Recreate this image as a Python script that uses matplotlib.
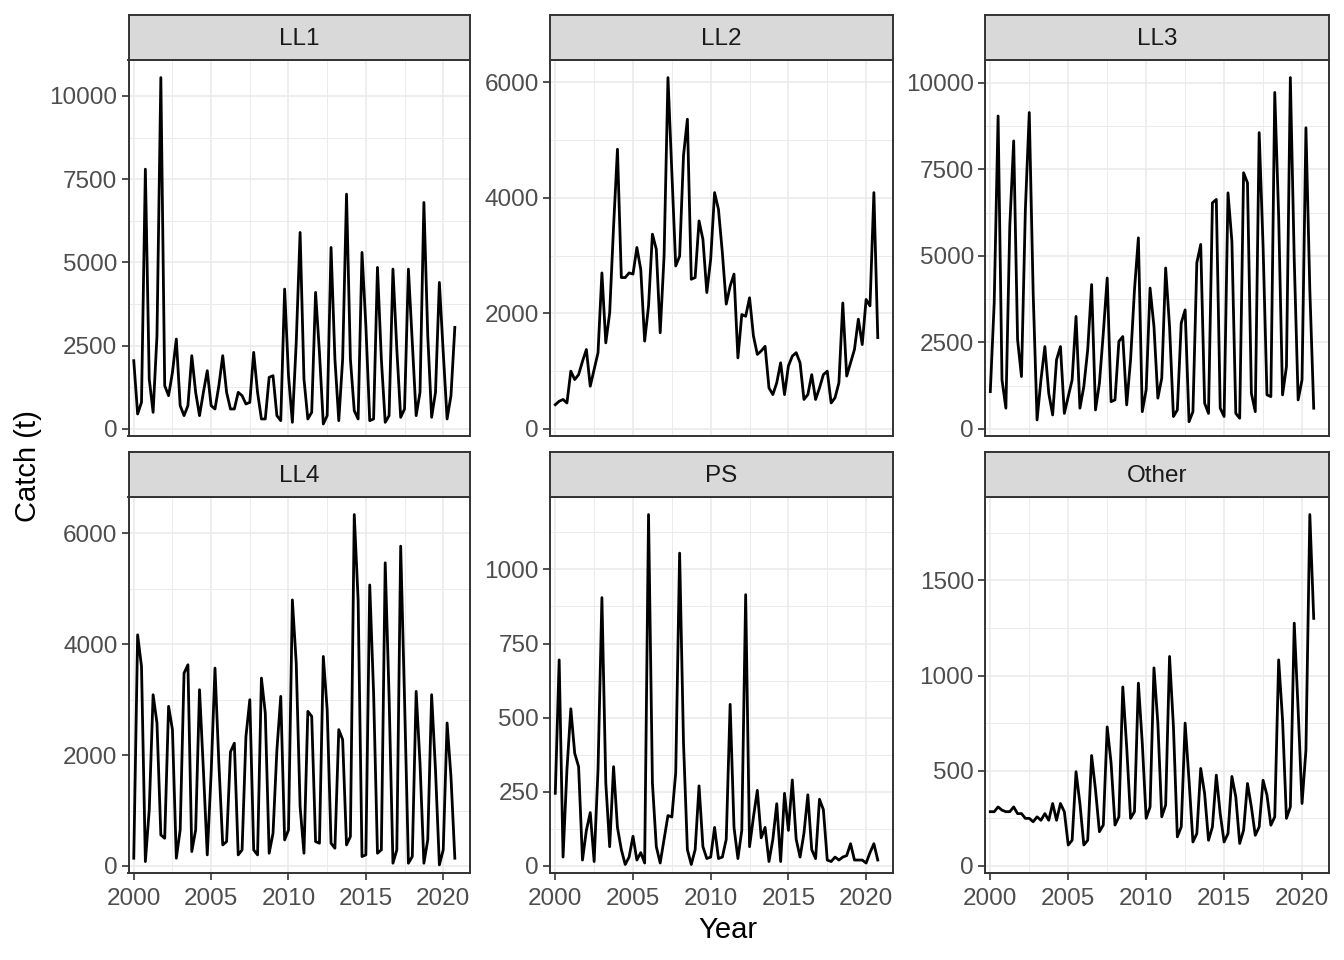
import numpy as np
import matplotlib
matplotlib.use("Agg")
import matplotlib.pyplot as plt
from matplotlib.ticker import MultipleLocator

plt.rcParams['font.family'] = ['Liberation Sans', 'DejaVu Sans']

# quarterly catches, 2000 Q1 .. 2020 Q4
years = 2000 + np.arange(84) / 4.0

ll1 = [2050, 450, 800, 7800, 1500, 500, 2800, 10550, 1300, 1000, 1700, 2700,
       700, 400, 700, 2200, 1100, 400, 1100, 1750, 700, 600, 1300, 2200,
       1100, 600, 600, 1100, 1000, 750, 800, 2300, 1100, 300, 300, 1550,
       1600, 400, 250, 4200, 1600, 200, 2600, 5900, 1500, 300, 500, 4100,
       2300, 150, 400, 5450, 2100, 250, 2100, 7050, 2100, 550, 300, 5300,
       3100, 250, 300, 4850, 2100, 200, 400, 4800, 2400, 350, 600, 4800,
       2600, 400, 1100, 6800, 2800, 350, 1100, 4400, 2300, 300, 1000, 3050]

ll2 = [420, 480, 510, 450, 1000, 855, 940, 1170, 1375, 740, 1030, 1320,
       2700, 1490, 2010, 3500, 4840, 2620, 2620, 2700, 2680, 3140, 2760, 1520,
       2130, 3370, 3110, 1665, 2990, 6080, 4440, 2820, 2990, 4730, 5360, 2590,
       2620, 3600, 3280, 2360, 2940, 4090, 3800, 3050, 2160, 2470, 2680, 1230,
       1980, 1950, 2270, 1610, 1290, 1350, 1430, 710, 595, 800, 1145, 595,
       1090, 1260, 1320, 1145, 510, 595, 940, 510, 710, 940, 1000, 450,
       540, 800, 2180, 915, 1145, 1375, 1900, 1460, 2240, 2130, 4090, 1580]

ll3 = [1080, 3640, 9040, 1420, 600, 5860, 8320, 2580, 1515, 6340, 9140, 3930,
       260, 1420, 2380, 1030, 405, 2000, 2380, 450, 935, 1420, 3250, 600,
       1225, 2290, 4170, 550, 1320, 2770, 4360, 790, 840, 2530, 2670, 695,
       2000, 4020, 5520, 500, 1130, 4070, 2960, 890, 1470, 4650, 2960, 360,
       550, 3060, 3440, 210, 500, 4800, 5330, 745, 450, 6530, 6630, 600,
       360, 6820, 5420, 450, 310, 7400, 7110, 1030, 500, 8560, 5280, 985,
       935, 9720, 6150, 985, 1800, 10150, 4890, 840, 1420, 8700, 4020, 600]

ll4 = [140, 4170, 3600, 80, 1010, 3090, 2580, 560, 500, 2880, 2460, 140,
       650, 3480, 3630, 260, 650, 3180, 1730, 200, 1670, 3570, 1850, 380,
       440, 2060, 2215, 200, 290, 2340, 3000, 290, 200, 3390, 2760, 230,
       590, 2090, 3060, 470, 650, 4800, 3660, 1070, 230, 2790, 2700, 440,
       410, 3780, 2820, 410, 320, 2460, 2280, 380, 530, 6340, 4800, 170,
       200, 5070, 3120, 230, 290, 5470, 3060, 50, 290, 5770, 3000, 50,
       170, 3150, 1850, 50, 470, 3090, 1730, 20, 290, 2580, 1610, 140]

ps = [245, 695, 30, 325, 530, 380, 335, 20, 120, 180, 15, 325,
      905, 280, 65, 335, 130, 55, 5, 30, 100, 20, 45, 10,
      1185, 280, 65, 10, 90, 170, 165, 315, 1055, 415, 55, 5,
      55, 270, 65, 25, 30, 130, 25, 30, 90, 545, 130, 25,
      120, 915, 65, 165, 255, 95, 130, 15, 90, 210, 15, 245,
      120, 290, 90, 30, 110, 240, 55, 25, 225, 190, 20, 15,
      30, 20, 30, 35, 75, 20, 20, 20, 10, 45, 75, 20]

other = [285, 285, 310, 293, 285, 285, 310, 275, 275, 250, 250, 232,
         258, 240, 275, 240, 328, 240, 328, 285, 110, 135, 495, 328,
         110, 135, 580, 400, 180, 215, 730, 540, 215, 258, 940, 625,
         250, 285, 960, 645, 250, 310, 1040, 750, 258, 320, 1100, 730,
         153, 205, 750, 450, 126, 170, 512, 380, 135, 205, 477, 275,
         126, 170, 470, 363, 118, 188, 433, 310, 161, 205, 450, 372,
         214, 258, 1082, 767, 250, 310, 1275, 820, 328, 608, 1845, 1300]

panels = ["LL1", "LL2", "LL3", "LL4", "PS", "Other"]
series = [ll1, ll2, ll3, ll4, ps, other]
y_steps = [2500, 2000, 2500, 2000, 250, 500]
x_ticks = [2000, 2005, 2010, 2015, 2020]

W, H = 1344, 960
fig = plt.figure(figsize=(W / 100, H / 100), dpi=100)

col_px = [(128.5, 470), (550, 893), (985, 1329)]
row_px = [(60, 436), (497, 873)]
strip_h = 45

border = "#333333"
grid_c = "#EBEBEB"
tick_c = "#4D4D4D"

for k, (name, vals, step) in enumerate(zip(panels, series, y_steps)):
    r, c = divmod(k, 3)
    x0, x1 = col_px[c]
    y0, y1 = row_px[r]
    ax = fig.add_axes([x0 / W, 1 - y1 / H, (x1 - x0) / W, (y1 - y0) / H])
    ax.plot(years, vals, color="black", lw=2.0, zorder=3)

    # y scale anchored at zero, small pad below, 5% above
    hi = max(vals)
    ax.set_ylim(-0.02 * hi, 1.05 * hi)
    ax.set_xlim(1999.66, 2021.73)

    ax.yaxis.set_major_locator(MultipleLocator(step))
    ax.yaxis.set_minor_locator(MultipleLocator(step / 2))
    ax.xaxis.set_major_locator(MultipleLocator(5))
    ax.xaxis.set_minor_locator(MultipleLocator(2.5))
    ax.set_xticks(x_ticks)

    ax.grid(which="major", color=grid_c, lw=1.2, zorder=0)
    ax.grid(which="minor", color=grid_c, lw=0.7, zorder=0)
    ax.set_axisbelow(True)
    for sp in ax.spines.values():
        sp.set_color(border)
        sp.set_linewidth(1.4)

    ax.tick_params(axis="both", which="major", length=5, width=1.2,
                   color=border, labelsize=17.5, labelcolor=tick_c, pad=3)
    ax.tick_params(axis="x", which="major", pad=6)
    ax.tick_params(axis="both", which="minor", length=0)
    if r == 0:
        ax.tick_params(axis="x", which="major", length=0, labelbottom=False)

    sax = fig.add_axes([x0 / W, 1 - y0 / H, (x1 - x0) / W, strip_h / H])
    sax.set_facecolor("#D9D9D9")
    sax.set_xticks([])
    sax.set_yticks([])
    for sp in sax.spines.values():
        sp.set_color(border)
        sp.set_linewidth(1.4)
    sax.text(0.5, 0.47, name, ha="center", va="center", fontsize=17.5,
             color="#1A1A1A", transform=sax.transAxes)

fig.text(28 / W, 1 - 466 / H, "Catch (t)", rotation=90, ha="center",
         va="center", fontsize=21, color="black")
fig.text(728 / W, 1 - 930 / H, "Year", ha="center", va="center",
         fontsize=21, color="black")

fig.savefig("out.png", dpi=100, facecolor="white")
